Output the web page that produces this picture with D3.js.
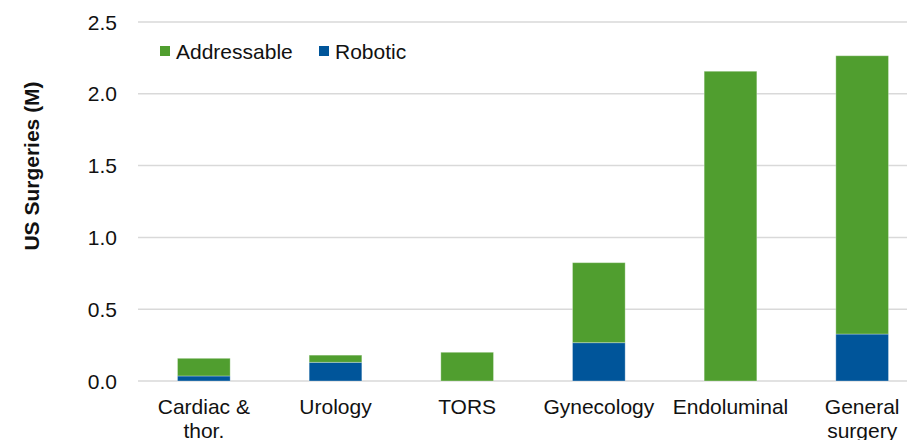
<!DOCTYPE html>
<style>

body {
  margin: 0;
  background: #fff;
}

text {
  font-family: "Liberation Sans", Arial, sans-serif;
  font-size: 21px;
  fill: #111;
}

.grid line {
  stroke: #d9d9d9;
  stroke-width: 1.5;
}

</style>
<body>
<script src="https://cdn.jsdelivr.net/npm/d3@7"></script>
<script>

var categories = ["Cardiac & thor.", "Urology", "TORS", "Gynecology", "Endoluminal", "General surgery"];
var robotic = [0.035, 0.13, 0, 0.267, 0, 0.327];
var addressable = [0.123, 0.05, 0.20, 0.557, 2.157, 1.938];
var yTicks = [0, 0.5, 1.0, 1.5, 2.0, 2.5];
var seriesNames = ["Addressable", "Robotic"];

var width = 907,
    height = 440;

var colors = { Robotic: "#00559a", Addressable: "#509e2f" };

var svg = d3.select("body").append("svg")
    .attr("width", width)
    .attr("height", height);

var x = d3.scaleBand()
    .domain(categories)
    .range([138, 928])
    .paddingInner(0.6)
    .paddingOuter(0.3);

var y = d3.scaleLinear()
    .domain([0, 2.5])
    .range([381, 22]);

// gridlines
svg.append("g")
    .attr("class", "grid")
  .selectAll("line")
    .data(yTicks)
  .enter().append("line")
    .attr("x1", 138)
    .attr("x2", 928)
    .attr("y1", function(d) { return y(d); })
    .attr("y2", function(d) { return y(d); });

// tick labels
svg.append("g")
  .selectAll("text")
    .data(yTicks)
  .enter().append("text")
    .attr("x", 117)
    .attr("y", function(d) { return y(d); })
    .attr("dy", "0.36em")
    .attr("text-anchor", "end")
    .text(function(d) { return d3.format(".1f")(d); });

// stacked bars
var rows = categories.map(function(c, i) {
  return { cat: c, Robotic: robotic[i], Addressable: addressable[i] };
});

var stack = d3.stack().keys(["Robotic", "Addressable"])(rows);

svg.append("g")
  .selectAll("g")
    .data(stack)
  .enter().append("g")
    .attr("fill", function(s) { return colors[s.key]; })
  .selectAll("rect")
    .data(function(s) { return s; })
  .enter().append("rect")
    .filter(function(d) { return d[1] - d[0] > 0; })
    .attr("x", function(d) { return x(d.data.cat); })
    .attr("width", x.bandwidth())
    .attr("y", function(d) { return y(d[1]); })
    .attr("height", function(d) { return y(d[0]) - y(d[1]); })
    .attr("stroke", "#fff")
    .attr("stroke-opacity", 0.3)
    .attr("stroke-width", 1);

// category labels, wrapped to the band
var labels = svg.append("g")
  .selectAll("text")
    .data(categories)
  .enter().append("text")
    .attr("text-anchor", "middle")
    .attr("x", function(d) { return x(d) + x.bandwidth() / 2; })
    .attr("y", 414);

labels.each(function(d) {
  var el = d3.select(this),
      words = d.split(" "),
      line = [],
      lineNo = 0,
      cx = x(d) + x.bandwidth() / 2,
      tspan = el.append("tspan").attr("x", cx).attr("y", 414);
  words.forEach(function(w) {
    line.push(w);
    tspan.text(line.join(" "));
    if (tspan.node().getComputedTextLength() > 125 && line.length > 1) {
      line.pop();
      tspan.text(line.join(" "));
      line = [w];
      lineNo++;
      tspan = el.append("tspan").attr("x", cx).attr("y", 414 + lineNo * 24).text(w);
    }
  });
});

// axis title
svg.append("text")
    .attr("transform", "translate(39,166) rotate(-90)")
    .attr("text-anchor", "middle")
    .style("font-weight", "bold")
    .text("US Surgeries (M)");

// legend
var legendX = [160, 319];
var legend = svg.append("g")
  .selectAll("g")
    .data(seriesNames)
  .enter().append("g")
    .attr("transform", function(d, i) { return "translate(" + legendX[i] + ",46)"; });

legend.append("rect")
    .attr("width", 10)
    .attr("height", 10)
    .attr("fill", function(d) { return colors[d]; });

legend.append("text")
    .attr("x", 16)
    .attr("y", 5)
    .attr("dy", "0.36em")
    .text(function(d) { return d; });

</script>
